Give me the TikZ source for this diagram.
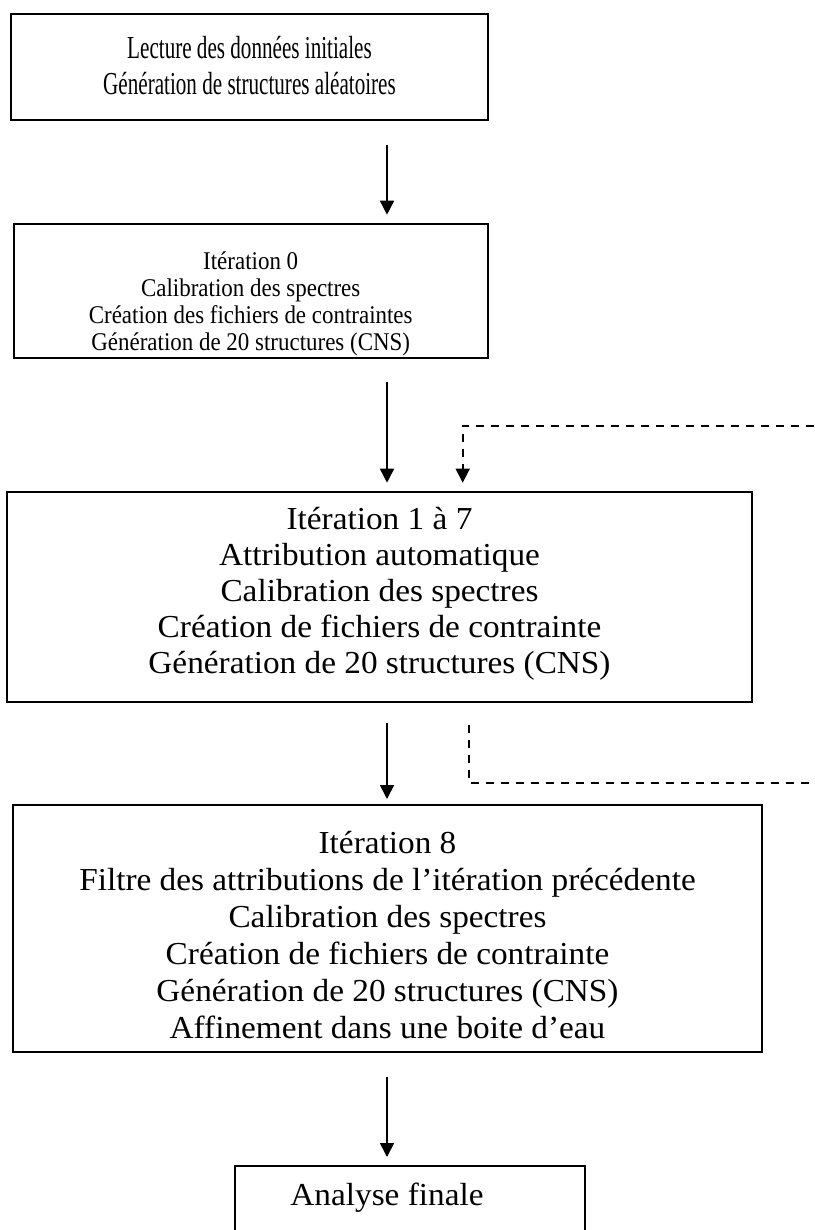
\documentclass[tikz,border=0pt]{standalone}
\usepackage{fontspec}
\setmainfont{Liberation Serif}[FakeStretch=1.04]
\newfontfamily\condfont{Liberation Serif}[FakeStretch=0.66]
\newfontfamily\smallfont{Liberation Serif}[FakeStretch=0.9]
\usetikzlibrary{arrows.meta,calc}
\begin{document}
\begin{tikzpicture}[x=1pt,y=1pt,
  box/.style={draw=black, line width=2pt, anchor=north west, inner sep=0pt},
  txt/.style={align=center, inner sep=0pt, font=\fontsize{32}{37}\selectfont},
  arr/.style={line width=1.6pt, -{Triangle[length=14pt,width=14pt]}},
  dsh/.style={line width=1.6pt, dash pattern=on 8pt off 7pt}]
\useasboundingbox (0,0) rectangle (814,-1230);
\fill[white] (0,0) rectangle (814,-1230);
\coordinate (ax) at (387,0);
% boxes
\node[box, minimum width=477pt, minimum height=106pt] (b1) at (10,-12.7) {};
\node[box, minimum width=474pt, minimum height=134pt] (b2) at (12.7,-222.7) {};
\node[box, minimum width=745pt, minimum height=210pt] (b3) at (6,-490.7) {};
\node[box, minimum width=749pt, minimum height=247pt] (b4) at (12,-804) {};
\node[box, minimum width=350pt, minimum height=90pt] (b5) at (234,-1165) {};
% texts
\node[txt, font=\condfont\fontsize{32}{36}\selectfont] (t1) at ([yshift=1pt]b1.center)
  {Lecture des données initiales\\Génération de structures aléatoires};
\node[txt, font=\smallfont\fontsize{25.5}{27}\selectfont] (t2) at ([yshift=-13pt]b2.center)
  {Itération 0\\Calibration des spectres\\Création des fichiers de contraintes\\Génération de 20 structures (CNS)};
\node[txt, font=\fontsize{32}{36}\selectfont] (t3) at ([yshift=3pt]b3.center)
  {Itération 1 à 7\\Attribution automatique\\Calibration des spectres\\Création de fichiers de contrainte\\Génération de 20 structures (CNS)};
\node[txt] (t4) at ([yshift=-7pt]b4.center)
  {Itération 8\\Filtre des attributions de l’itération précédente\\Calibration des spectres\\Création de fichiers de contrainte\\Génération de 20 structures (CNS)\\Affinement dans une boite d’eau};
\node[txt, anchor=base] (t5) at (387,-1205) {Analyse finale};
% connectors
\draw[arr, shorten <=24pt, shorten >=8pt] (b1.south -| ax) -- (b2.north -| ax);
\draw[arr, shorten <=23pt, shorten >=8pt] (b2.south -| ax) -- (b3.north -| ax);
\draw[arr, shorten <=20pt, shorten >=5pt] (b3.south -| ax) -- (b4.north -| ax);
\draw[arr, shorten <=24pt, shorten >=8pt] (b4.south -| ax) -- (b5.north -| ax);
\coordinate (d1s) at (814,-425.7);
\coordinate (d1x) at (462.7,0);
\draw[dsh] (d1s) -| ($(b3.north -| d1x)+(0,24)$);
\draw[arr, dsh, dash pattern=on 8pt off 0pt] ($(b3.north -| d1x)+(0,24)$) -- ($(b3.north -| d1x)+(0,8)$);
\coordinate (d2x) at (469,0);
\coordinate (d2e) at (814,-783);
\draw[dsh, shorten <=22pt] (b3.south -| d2x) |- (d2e);
\end{tikzpicture}
\end{document}
